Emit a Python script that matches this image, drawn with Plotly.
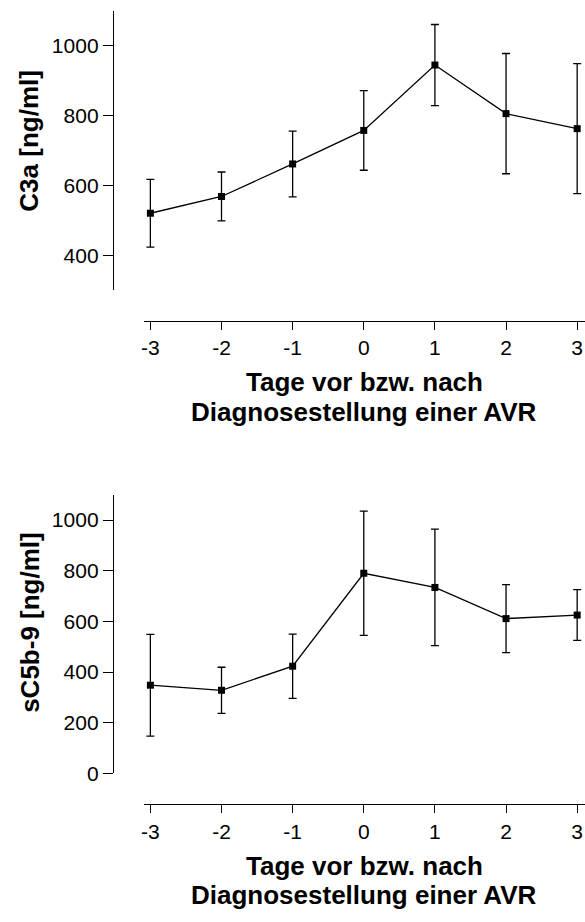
import plotly.graph_objects as go

days = [-3, -2, -1, 0, 1, 2, 3]
x_ticks = [-3, -2, -1, 0, 1, 2, 3]
x_ticktext = ["-3", "-2", "-1", "0", "1", "2", "3"]

c3a_mean = [521, 569, 662, 758, 945, 806, 763]
c3a_err = [97, 70, 94, 114, 116, 172, 186]

sc5b9_mean = [348, 328, 423, 790, 734, 611, 625]
sc5b9_err = [201, 91, 127, 245, 230, 134, 100]

y1_ticks = [400, 600, 800, 1000]
y2_ticks = [0, 200, 400, 600, 800, 1000]

x_title_lines = ["Tage vor bzw. nach", "Diagnosestellung einer AVR"]
y1_title = "C3a [ng/ml]"
y2_title = "sC5b-9 [ng/ml]"

W, H = 585, 922
FONT = "Arial, Liberation Sans, sans-serif"


def px_x(p):
    return p / W


def px_y(p):
    return 1 - p / H


fig = go.Figure()

for mean, err, xa, ya in [(c3a_mean, c3a_err, "x", "y"), (sc5b9_mean, sc5b9_err, "x2", "y2")]:
    fig.add_trace(go.Scatter(
        x=days, y=mean, xaxis=xa, yaxis=ya, mode="lines+markers",
        line=dict(color="black", width=1.3),
        marker=dict(symbol="square", size=7, color="black"),
        error_y=dict(type="data", array=err, visible=True, color="black", thickness=1.3, width=4),
        showlegend=False, cliponaxis=False,
    ))

xdom = [px_x(141.7), 1.0]
common_x = dict(range=[-3.09, 3.11], tickvals=x_ticks, ticktext=x_ticktext, showline=True, linecolor="black",
                linewidth=1.3, ticks="outside", ticklen=8, tickwidth=1.3, tickcolor="black", showgrid=False,
                zeroline=False, tickfont=dict(family=FONT, size=21, color="black"), anchor="free", domain=xdom)
common_y = dict(showline=True, linecolor="black", linewidth=1.3, ticks="outside", ticklen=10, tickwidth=1.3,
                tickcolor="black", showgrid=False, zeroline=False,
                tickfont=dict(family=FONT, size=21, color="black"), anchor="free", position=px_x(110.5))

fig.update_layout(
    width=W, height=H, margin=dict(l=0, r=0, t=0, b=0),
    paper_bgcolor="white", plot_bgcolor="white",
    xaxis=dict(**common_x, position=px_y(325)),
    yaxis=dict(**common_y, range=[300, 1100], tickvals=y1_ticks, domain=[px_y(294), px_y(11)]),
    xaxis2=dict(**common_x, position=px_y(814)),
    yaxis2=dict(**common_y, range=[0, 1100], tickvals=y2_ticks, domain=[px_y(782.7), px_y(500.7)]),
)

title_font = dict(family=FONT, size=26, color="black")
annos = [
    dict(text="<b>" + x_title_lines[0] + "</b>", x=px_x(363), y=px_y(387)),
    dict(text="<b>" + x_title_lines[1] + "</b>", x=px_x(363), y=px_y(416.5)),
    dict(text="<b>" + x_title_lines[0] + "</b>", x=px_x(363), y=px_y(876)),
    dict(text="<b>" + x_title_lines[1] + "</b>", x=px_x(363), y=px_y(905.5)),
    dict(text="<b>" + y1_title + "</b>", x=px_x(26.5), y=px_y(142), textangle=-90),
    dict(text="<b>" + y2_title + "</b>", x=px_x(27.5), y=px_y(630), textangle=-90),
]
for a in annos:
    fig.add_annotation(xref="paper", yref="paper", showarrow=False, font=title_font, borderpad=0,
                       xanchor="center", yanchor="middle", align="center", **a)

fig.write_html("out.html", config={"displayModeBar": False},
               post_script="document.body.style.margin='0';document.body.style.overflow='hidden';")
